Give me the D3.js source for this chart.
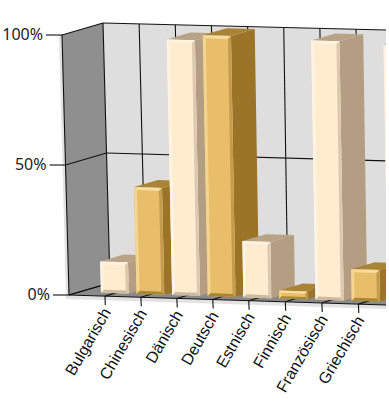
<!DOCTYPE html>
<html>
<head>
<meta charset="utf-8">
<script src="https://cdn.jsdelivr.net/npm/d3@7"></script>
<style>
  html, body { margin: 0; padding: 0; background: white; }
  svg { display: block; }
  .wall-line { stroke: #111; stroke-width: 1.1; fill: none; }
  .cat { font-family: "Liberation Sans", Arial, sans-serif; font-size: 16px; fill: #111; }
  .val { font-family: "Noto Sans", sans-serif; font-size: 16px; fill: #222; }
</style>
</head>
<body>
<div id="wykres"></div>
<script>
// the 9th bar is cut off by the picture edge, its label is not shown
var categories = ["Bulgarisch", "Chinesisch", "Dänisch", "Deutsch", "Estnisch", "Finnisch", "Französisch", "Griechisch", ""];
var values = [12, 41, 98, 100, 21.5, 3, 99, 12, 98];
var valueTicks = [0, 50, 100];
var gridPositions = [0, 1, 2, 3, 4, 5, 6, 7, 8, 9];

var width = 389, height = 402;

var palette = [
  { front: "#FFEBCD", left: "#FFF4E3", top: "#FFF3DF", right: "#DCC8AC", bottom: "#CDB99E", side: "#B39E83", cap: "#B8A386" },
  { front: "#E8BE6B", left: "#F3D58F", top: "#F6DC9F", right: "#C49C4C", bottom: "#A98630", side: "#9C7427", cap: "#A98436" }
];

var svg = d3.select("#wykres")
  .append("svg")
  .attr("width", width)
  .attr("height", height)
  .style("background", "white");

svg.append("clipPath").attr("id", "crop")
  .append("rect")
  .attr("width", 386)
  .attr("height", height);

var chart = svg.append("g").attr("clip-path", "url(#crop)");

// three scales: position along the categories, value height, depth into the box
var xscale = d3.scaleLinear().domain([0, 1]).range([0, 36.15]);
var yscale = d3.scaleLinear().domain([0, 100]).range([260, 0]);
var zscale = d3.scaleLinear().domain([0, 1]).range([0, 41]);
var zscale_y = d3.scaleLinear().domain([0, 1]).range([0, -12]);

function project(u, val, w) {
  var drop = yscale(val);
  // verticals lean less towards the right, the front floor edge is a bit wider
  var lean = (Math.max(4, 7 - 0.6 * u) + 0.4 * u * Math.pow(1 - w, 8)) * drop / 260;
  return [
    62 + xscale(u) + zscale(w) + lean,
    35 + 0.9 * u + zscale_y(w) + drop * (1 + 0.24 * u / 260)
  ];
}

function poly(points, fill, parent) {
  return (parent || chart).append("polygon")
    .attr("points", points.map(function (p) { return p.join(","); }).join(" "))
    .attr("fill", fill);
}

function seg(a, b) {
  chart.append("line")
    .attr("class", "wall-line")
    .attr("x1", a[0]).attr("y1", a[1])
    .attr("x2", b[0]).attr("y2", b[1]);
}

var uEnd = 9.5;

// light rim round the box
poly([[project(0, 100, 0)[0] - 3, project(0, 100, 0)[1]],
  project(0, 100, 0), project(0, 0, 0),
  project(uEnd, 0, 0),
  [project(uEnd, 0, 0)[0], project(uEnd, 0, 0)[1] + 4],
  [project(0, 0, 0)[0] - 3, project(0, 0, 0)[1] + 4]], "#E2E2E2");

// walls and floor
poly([project(0, 100, 1), project(uEnd, 100, 1), project(uEnd, 0, 1), project(0, 0, 1)], "#DEDEDE");
poly([project(0, 100, 0), project(0, 100, 1), project(0, 0, 1), project(0, 0, 0)], "#8F8F8F");
poly([project(0, 0, 0), project(0, 0, 1), project(uEnd, 0, 1), project(uEnd, 0, 0)], "#8A8A8A");

// grid on the back wall, side wall and floor
valueTicks.forEach(function (t) {
  seg(project(0, t, 1), project(uEnd, t, 1));
  seg(project(0, t, 0), project(0, t, 1));
  var p = project(0, t, 0);
  seg([p[0] - 16, p[1]], p);
});
gridPositions.forEach(function (u) {
  seg(project(u, 0, 1), project(u, 100, 1));
  seg(project(u, 0, 0), project(u, 0, 1));
});
seg(project(0, 0, 0), project(0, 100, 0));
seg(project(0, 0, 0), project(uEnd, 0, 0));

// bars, left to right so that each one covers the side of the previous one
var barHalf = 0.39, zFront = 0.25, zBack = 0.83, bevel = 3;

values.forEach(function (v, i) {
  var u = i + 1;
  var c = palette[i % 2];
  var fl = project(u - barHalf, v, zFront), fr = project(u + barHalf, v, zFront);
  var bl = project(u - barHalf, 0, zFront), br = project(u + barHalf, 0, zFront);
  var tbl = project(u - barHalf, v, zBack), tbr = project(u + barHalf, v, zBack);
  var bbr = project(u + barHalf, 0, zBack);

  poly([fr, tbr, bbr, br], c.side);
  poly([fl, tbl, tbr, fr], c.cap);

  var b = Math.min(bevel, (bl[1] - fl[1]) * 0.28);
  var ifl = [fl[0] + b, fl[1] + b], ifr = [fr[0] - b, fr[1] + b];
  var ibl = [bl[0] + b, bl[1] - b], ibr = [br[0] - b, br[1] - b];

  poly([fl, fr, br, bl], c.front);
  poly([fl, fr, ifr, ifl], c.top);
  poly([fl, ifl, ibl, bl], c.left);
  poly([fr, br, ibr, ifr], c.right);
  poly([bl, ibl, ibr, br], c.bottom);
});

// category ticks and labels
categories.forEach(function (name, i) {
  if (name === "") return;
  var p = project(i + 1, 0, 0);
  seg(p, [p[0] + 0.4, p[1] + 9]);
  svg.append("text")
    .attr("class", "cat")
    .attr("text-anchor", "end")
    .attr("transform", "translate(" + (p[0] + 6.5) + "," + (p[1] + 16) + ")rotate(-60)")
    .text(name);
});

// value labels
valueTicks.forEach(function (t) {
  var p = project(0, t, 0);
  svg.append("text")
    .attr("class", "val")
    .attr("text-anchor", "end")
    .attr("x", p[0] - 19)
    .attr("y", p[1] + 5)
    .text(t + "%");
});
</script>
</body>
</html>
